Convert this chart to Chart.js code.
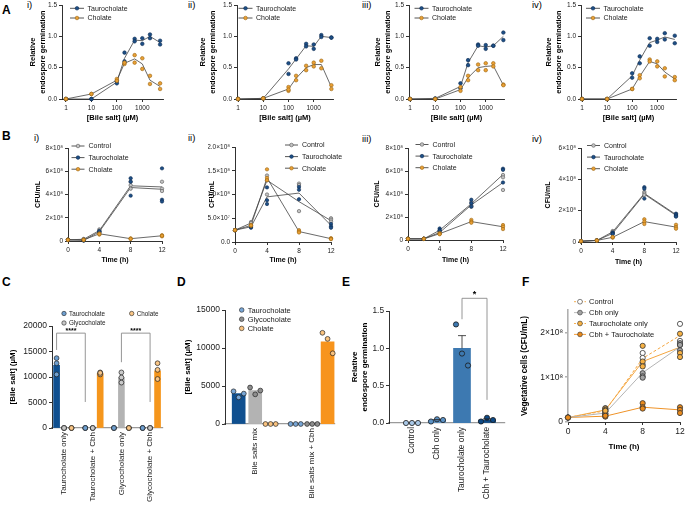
<!DOCTYPE html>
<html>
<head>
<meta charset="utf-8">
<script src="https://cdn.jsdelivr.net/npm/chart.js@4.4.1/dist/chart.umd.min.js"></script>
<style>
  body { margin: 0; background: #fff; overflow: hidden; }
  #fig { position: relative; width: 685px; height: 509px; font-family: 'Liberation Sans', Arial, sans-serif; color: #000; }
  .big { position: absolute; font-weight: bold; font-size: 12px; line-height: 12px; }
  .rom { position: absolute; font-size: 9.5px; line-height: 10px; }
</style>
</head>
<body>
<div id="fig">
  <div class="big" style="left:2px;top:4px">A</div>
  <div class="rom" style="left:27px;top:0px">i)</div>
  <div class="rom" style="left:188px;top:0px">ii)</div>
  <div class="rom" style="left:362px;top:0px">iii)</div>
  <div class="rom" style="left:532px;top:0px">iv)</div>
  <div class="big" style="left:2px;top:130px">B</div>
  <div class="rom" style="left:34px;top:133px">i)</div>
  <div class="rom" style="left:188px;top:133px">ii)</div>
  <div class="rom" style="left:362px;top:134px">iii)</div>
  <div class="rom" style="left:532px;top:134px">iv)</div>
  <div class="big" style="left:2px;top:276px">C</div>
  <div class="big" style="left:177px;top:276px">D</div>
  <div class="big" style="left:342px;top:276px">E</div>
  <div class="big" style="left:522px;top:276px">F</div>
</div>
<script>
// ---------- data ----------
const conc = [1, 10, 100, 200, 500, 1000, 2000, 5000];

const a1Tauro = [0, 0, 0.27, 0.65, 0.94, 0.93, 1.0, 0.9];
const a1TauroReps = [[0, 0], [0, 0], [0.25, 0.29], [0.74, 0.6], [0.96, 0.92], [0.97, 0.88], [1.03, 0.97], [0.93, 0.87]];
const a1Chol = [0, 0.08, 0.3, 0.57, 0.64, 0.56, 0.3, 0.2];
const a1CholReps = [[0, 0], [0.08, 0.08], [0.32, 0.29], [0.56, 0.58], [0.7, 0.58], [0.65, 0.48], [0.37, 0.24], [0.25, 0.16]];

const a2Tauro = [0, 0.01, 0.48, 0.64, 0.85, 0.84, 1.0, 0.98];
const a2TauroReps = [[0, 0], [0.01, 0.01], [0.57, 0.4], [0.65, 0.63], [0.88, 0.84], [0.87, 0.8], [1.02, 0.99], [0.98, 0.98]];
const a2Chol = [0, 0.01, 0.16, 0.33, 0.5, 0.55, 0.55, 0.19];
const a2CholReps = [[0, 0], [0.01, 0.01], [0.19, 0.13, 0.15], [0.37, 0.3], [0.53, 0.46], [0.58, 0.52], [0.61, 0.49], [0.22, 0.16]];

const a3Tauro = [0, 0.01, 0.2, 0.58, 0.85, 0.83, 0.85, 1.0];
const a3TauroReps = [[0, 0], [0.01, 0], [0.25, 0.17], [0.62, 0.54], [0.87, 0.85], [0.86, 0.8], [0.85, 0.85], [1.06, 0.94]];
const a3Chol = [0, 0, 0.15, 0.34, 0.5, 0.52, 0.53, 0.22];
const a3CholReps = [[0, 0], [0, 0], [0.19, 0.13], [0.37, 0.3], [0.55, 0.46], [0.57, 0.46], [0.57, 0.52], [0.23, 0.22]];

const a4Tauro = [0, 0, 0.37, 0.62, 0.9, 0.94, 0.99, 0.95];
const a4TauroReps = [[0, 0], [0, 0], [0.41, 0.34], [0.68, 0.57], [0.97, 0.85], [0.96, 0.91], [1.05, 0.95], [1.01, 0.89]];
const a4Chol = [0, 0, 0.16, 0.36, 0.6, 0.56, 0.43, 0.32];
const a4CholReps = [[0, 0], [0, 0], [0.16, 0.16], [0.38, 0.33], [0.63, 0.6], [0.6, 0.52], [0.49, 0.36], [0.35, 0.3]];

// CFU/mL in units of 1e8
const hours = [0, 2, 4, 8, 12];

const b1Control = [0.1, 0.15, 0.9, 4.75, 4.65];
const b1ControlReps = [[0.1, 0.12, 0.08], [0.15, 0.18, 0.12], [1.0, 0.9, 0.8], [5.1, 4.8, 4.5], [5.1, 4.5, 4.3]];
const b1Tauro = [0.1, 0.05, 0.8, 4.6, 4.45];
const b1TauroReps = [[0.1, 0.1, 0.1], [0.05, 0.06, 0.04], [0.8, 0.75, 0.85], [5.4, 5.1, 3.9], [6.25, 3.55, 3.4]];
const b1Chol = [0.1, 0.1, 0.62, 0.2, 0.45];
const b1CholReps = [[0.1, 0.1, 0.1], [0.1, 0.1, 0.1], [0.65, 0.55, 0.6], [0.2, 0.22, 0.18], [0.5, 0.4, 0.45]];

const b2Control = [0.25, 0.4, 1.3, 0.85, 0.45];
const b2ControlReps = [[0.25, 0.25, 0.25], [0.42, 0.38, 0.4], [1.4, 1.3, 1.0], [1.23, 1.2, 0.65], [0.5, 0.47, 0.43]];
const b2Tauro = [0.25, 0.32, 0.95, 1.03, 0.35];
const b2TauroReps = [[0.25, 0.25, 0.25], [0.3, 0.32, 0.34], [1.15, 0.88, 0.8], [1.16, 1.1, 0.9], [0.38, 0.33, 0.3]];
const b2Chol = [0.25, 0.35, 1.35, 0.22, 0.07];
const b2CholReps = [[0.25, 0.25, 0.25], [0.36, 0.34, 0.35], [1.53, 1.35, 1.3], [0.25, 0.22, 0.2], [0.08, 0.07, 0.06]];

const b3Control = [0.1, 0.1, 0.65, 3.05, 5.0];
const b3ControlReps = [[0.1, 0.1, 0.1], [0.1, 0.1, 0.1], [0.75, 0.6, 0.55], [3.3, 3.0, 2.9], [5.65, 5.45, 4.35]];
const b3Tauro = [0.1, 0.1, 0.85, 3.15, 5.7];
const b3TauroReps = [[0.1, 0.1, 0.1], [0.1, 0.1, 0.1], [1.0, 0.85, 0.8], [3.5, 3.2, 2.9], [6.2, 6.1, 5.0]];
const b3Chol = [0.1, 0.1, 0.55, 1.6, 1.15];
const b3CholReps = [[0.1, 0.1, 0.1], [0.1, 0.1, 0.1], [0.6, 0.55, 0.5], [1.75, 1.6, 1.5], [1.3, 1.15, 0.95]];

const b4Control = [0.05, 0.1, 0.65, 3.1, 1.75];
const b4ControlReps = [[0.05, 0.05, 0.05], [0.1, 0.1, 0.1], [0.7, 0.65, 0.6], [3.2, 3.1, 3.0], [1.8, 1.75, 1.65]];
const b4Tauro = [0.05, 0.1, 0.55, 3.05, 1.7];
const b4TauroReps = [[0.05, 0.05, 0.05], [0.1, 0.1, 0.1], [0.6, 0.55, 0.5], [3.5, 3.4, 2.77], [1.8, 1.7, 1.62]];
const b4Chol = [0.05, 0.1, 0.3, 1.3, 0.95];
const b4CholReps = [[0.05, 0.05, 0.05], [0.1, 0.1, 0.1], [0.3, 0.28, 0.32], [1.45, 1.3, 1.15], [1.1, 0.95, 0.85]];

const cGroups = ['Taurocholate only', 'Taurocholate + Cbh', 'Glycocholate only', 'Glycocholate + Cbh'];
const cTauro = [12300, 0, 0, 0];
const cTauroReps = [[13700, 12700, 10500], [0, 0, 0], [0, 0, 0], [0, 0, 0]];
const cGlyco = [0, 0, 9900, 0];
const cGlycoReps = [[0, 0, 0], [0, 0, 0], [10900, 9900, 8900], [0, 0, 0]];
const cChol = [0, 10700, 0, 11200];
const cCholReps = [[0, 0, 0], [10900, 10500, 10800], [0, 0, 0], [12700, 11400, 9600]];

const dGroups = ['Bile salts mix', 'Bile salts mix + Cbh'];
const dTauro = [4000, 0];
const dTauroReps = [[4300, 3500, 4000], [0, 0, 0]];
const dGlyco = [4400, 0];
const dGlycoReps = [[4800, 3900, 4400], [0, 0, 0]];
const dChol = [0, 10800];
const dCholReps = [[0, 0, 0], [12000, 11200, 9300]];

const eGroups = ['Control', 'Cbh only', 'Taurocholate only', 'Cbh + Taurocholate'];
const eMeans = [0, 0.035, 1.0, 0.04];
const eSem = [0, 0.01, 0.17, 0.015];
const eReps = [[0, 0, 0], [0.02, 0.05, 0.04], [1.32, 0.93, 0.77], [0.02, 0.07, 0.04]];

const fHours = [0, 4, 8, 12];
const fControl = [0.1, 0.25, 1.42, 1.93];
const fControlReps = [[0.1], [0.31, 0.24, 0.17], [1.54, 1.43, 1.28], [2.19, 1.81, 1.72]];
const fCbh = [0.1, 0.2, 1.1, 1.68];
const fCbhReps = [[0.1], [0.24, 0.18, 0.2], [1.09, 1.02, 0.99], [1.76, 1.72, 1.6]];
const fTauro = [0.1, 0.27, 1.35, 1.67];
const fTauroReps = [[0.1], [0.3, 0.27, 0.25], [1.7, 1.35, 1.24], [1.97, 1.54, 1.45]];
const fCbhTauro = [0.1, 0.13, 0.33, 0.27];
const fCbhTauroReps = [[0.1], [0.13, 0.12, 0.14], [0.42, 0.33, 0.3], [0.33, 0.27, 0.2]];

// ---------- styles ----------
const FONT = "'Liberation Sans', Arial, sans-serif";
const PADR = 14;
const INK = '#1a1a1a';
const BLUE = { fill: '#1d4f86', edge: '#0d2c52' };
const ORANGE = { fill: '#e9a035', edge: '#9a6410' };
const GREY = { fill: '#c4c4c4', edge: '#555' };
const LINE = '#444';

Chart.defaults.font.family = FONT;
Chart.defaults.color = INK;

// ---------- helpers ----------
const pts = (xs, ys) => xs.map((x, i) => ({ x: x, y: ys[i] }));
const repPts = (xs, reps, jit) => xs.flatMap((x, i) =>
  reps[i].map((y, k) => ({ x: x + (k - (reps[i].length - 1) / 2) * (jit || 0), y: y })));

function meanLine(xs, ys, color, width, dash) {
  return { type: 'scatter', data: pts(xs, ys), showLine: true, borderColor: color, borderWidth: width || 0.8,
    borderDash: dash || [], pointRadius: 0, clip: false, order: 3 };
}
function dots(data, st, r, bw) {
  return { type: 'scatter', data: data, showLine: false, pointRadius: r, backgroundColor: st.fill,
    borderColor: st.edge, borderWidth: bw || 0.6, clip: false, order: 1 };
}
function bars(data, color, thick) {
  return { type: 'bar', data: data.filter(p => p.y > 0), backgroundColor: color, borderWidth: 0,
    barThickness: thick, grouped: false, clip: false, order: 2 };
}

function axis(o) {
  const col = o.color || INK, bw = o.bw || 0.9;
  const a = {
    type: o.type || 'linear', min: o.min, max: o.max, offset: false,
    border: { display: true, color: col, width: bw },
    grid: { display: o.marks !== false, drawOnChartArea: false, drawTicks: true, tickLength: 3, color: col, lineWidth: bw },
    ticks: { stepSize: o.step, includeBounds: false, autoSkip: false, maxRotation: o.rot || 0, minRotation: o.rot || 0,
      padding: o.pad != null ? o.pad : 2, font: { family: FONT, size: o.tick }, color: INK, callback: o.fmt },
    title: { display: !!o.title, text: o.title, color: '#000', padding: 0,
      font: { family: FONT, size: o.ts, weight: 'bold', lineHeight: o.lh || 1.2 } }
  };
  if (o.values) a.afterBuildTicks = s => { s.ticks = o.values.map(v => ({ value: v })); };
  return a;
}

function mkChart(box, datasets, xs, ys, draw) {
  const pt = box.pt || 8;
  const W = box.yW + (box.r - box.l) + PADR, H = pt + (box.b - box.t) + box.xH;
  const cv = document.createElement('canvas');
  cv.width = W; cv.height = H;
  cv.style.cssText = 'position:absolute;left:' + (box.l - box.yW) + 'px;top:' + (box.t - pt) +
    'px;width:' + W + 'px;height:' + H + 'px';
  document.getElementById('fig').appendChild(cv);
  xs.afterFit = s => { s.height = box.xH; };
  ys.afterFit = s => { s.width = box.yW; };
  return new Chart(cv, {
    type: 'scatter',
    data: { datasets: datasets },
    options: {
      responsive: false, devicePixelRatio: 1, animation: false,
      layout: { padding: { left: 0, top: pt, right: PADR, bottom: 0 } },
      scales: { x: xs, y: ys },
      plugins: { legend: { display: false }, tooltip: { enabled: false } }
    },
    plugins: draw ? [{ id: 'extras', afterDraw: draw }] : []
  });
}

// legend drawn at page coordinates
function legend(chart, items, x0, y0, gap, o) {
  const ctx = chart.ctx;
  const ox = parseFloat(chart.canvas.style.left), oy = parseFloat(chart.canvas.style.top);
  ctx.save();
  items.forEach((it, i) => {
    const x = (it.x != null ? it.x : x0) - ox;
    const y = (it.y != null ? it.y : y0 + i * gap) - oy;
    if (it.line) {
      ctx.strokeStyle = it.line; ctx.lineWidth = 0.9; ctx.setLineDash(it.dash || []);
      ctx.beginPath(); ctx.moveTo(x - o.half, y); ctx.lineTo(x + o.half, y); ctx.stroke();
      ctx.setLineDash([]);
    }
    ctx.beginPath(); ctx.arc(x, y, o.r, 0, Math.PI * 2);
    ctx.fillStyle = it.fill; ctx.fill();
    ctx.strokeStyle = it.edge; ctx.lineWidth = 0.6; ctx.stroke();
    ctx.fillStyle = INK; ctx.font = o.size + 'px ' + FONT; ctx.textBaseline = 'middle'; ctx.textAlign = 'left';
    ctx.fillText(it.label, x + o.half + o.gap, y + 0.5);
  });
  ctx.restore();
}

function bracket(chart, xa, ya, xb, yb, ytop, label, size) {
  const ctx = chart.ctx, sx = chart.scales.x, sy = chart.scales.y;
  const X1 = sx.getPixelForValue(xa), X2 = sx.getPixelForValue(xb);
  const T = sy.getPixelForValue(ytop);
  ctx.save();
  ctx.strokeStyle = '#8a8a8a'; ctx.lineWidth = 0.9;
  ctx.beginPath();
  ctx.moveTo(X1, sy.getPixelForValue(ya)); ctx.lineTo(X1, T); ctx.lineTo(X2, T); ctx.lineTo(X2, sy.getPixelForValue(yb));
  ctx.stroke();
  ctx.fillStyle = '#000'; ctx.font = 'bold ' + size + 'px ' + FONT; ctx.textAlign = 'center'; ctx.textBaseline = 'bottom';
  ctx.fillText(label, (X1 + X2) / 2, T + 1);
  ctx.restore();
}

// ---------- A: germination vs bile salt ----------
function panelA(box, tauro, tauroReps, chol, cholReps, leg) {
  const ds = [
    meanLine(conc, tauro, LINE), meanLine(conc, chol, LINE),
    dots(repPts(conc, cholReps), ORANGE, 1.8), dots(repPts(conc, tauroReps), BLUE, 1.8)
  ];
  const xs = axis({ type: 'logarithmic', min: box.xmin, max: box.xmax, values: [1, 10, 100, 1000],
    fmt: v => String(v), tick: 6.5, title: '[Bile salt] (µM)', ts: 7.5, lh: 1.33 });
  const ys = axis({ min: 0, max: 1.5, step: 0.5, fmt: v => v.toFixed(1), tick: 6.5,
    title: ['Relative', 'endospore germination'], ts: 7.5, lh: 1.33 });
  mkChart(box, ds, xs, ys, c => legend(c, [
    { label: 'Taurocholate', line: LINE, fill: BLUE.fill, edge: BLUE.edge },
    { label: 'Cholate', line: LINE, fill: ORANGE.fill, edge: ORANGE.edge }
  ], leg[0], leg[1], 9.7, { half: 7, r: 1.8, gap: 3.5, size: 7 }));
}

panelA({ l: 62, t: 5, r: 163, b: 99, yW: 34, xH: 24, xmin: 0.7, xmax: 6500 }, a1Tauro, a1TauroReps, a1Chol, a1CholReps, [77, 8.3]);
panelA({ l: 237, t: 5, r: 333, b: 99, yW: 39, xH: 24, xmin: 0.91, xmax: 5800 }, a2Tauro, a2TauroReps, a2Chol, a2CholReps, [245.5, 8.3]);
panelA({ l: 409, t: 5, r: 504, b: 99, yW: 36, xH: 24, xmin: 0.91, xmax: 5300 }, a3Tauro, a3TauroReps, a3Chol, a3CholReps, [421.5, 8.3]);
panelA({ l: 581, t: 5, r: 676, b: 99, yW: 37, xH: 24, xmin: 0.91, xmax: 5600 }, a4Tauro, a4TauroReps, a4Chol, a4CholReps, [593, 8.3]);

// ---------- B: growth curves ----------
const fmt8 = v => v === 0 ? '0' : v + '×10⁸';
const fmt2 = v => v === 0 ? '0.0' : (v < 1 ? (v * 10).toFixed(1) + '×10⁷' : v.toFixed(1) + '×10⁸');

function panelB(box, ymax, ystep, fmt, ser, leg) {
  const ds = [
    meanLine(hours, ser[0], LINE), meanLine(hours, ser[2], LINE), meanLine(hours, ser[4], LINE),
    dots(repPts(hours, ser[5]), ORANGE, 1.7), dots(repPts(hours, ser[3]), BLUE, 1.7), dots(repPts(hours, ser[1]), GREY, 1.7)
  ];
  const xs = axis({ min: 0, max: 12, step: 4, fmt: v => String(v), tick: 6.5, title: 'Time (h)', ts: 7 });
  const ys = axis({ min: 0, max: ymax, step: ystep, fmt: fmt, tick: 6.5, title: 'CFU/mL', ts: 7 });
  mkChart(box, ds, xs, ys, c => legend(c, [
    { label: 'Control', line: LINE, fill: GREY.fill, edge: GREY.edge },
    { label: 'Taurocholate', line: LINE, fill: BLUE.fill, edge: BLUE.edge },
    { label: 'Cholate', line: LINE, fill: ORANGE.fill, edge: ORANGE.edge }
  ], leg[0], leg[1], 11.6, { half: 6.5, r: 1.8, gap: 4, size: 7 }));
}

panelB({ l: 68, t: 148, r: 162, b: 241, yW: 34, xH: 23 }, 8, 2, fmt8,
  [b1Control, b1ControlReps, b1Tauro, b1TauroReps, b1Chol, b1CholReps], [78, 146]);
panelB({ l: 235, t: 147, r: 331, b: 242, yW: 27, xH: 22 }, 2, 0.5, fmt2,
  [b2Control, b2ControlReps, b2Tauro, b2TauroReps, b2Chol, b2CholReps], [291.5, 145]);
panelB({ l: 408, t: 148, r: 503, b: 240, yW: 35, xH: 24 }, 8, 2, fmt8,
  [b3Control, b3ControlReps, b3Tauro, b3TauroReps, b3Chol, b3CholReps], [422, 144.5]);
panelB({ l: 581, t: 148, r: 676, b: 242, yW: 37, xH: 24 }, 6, 2, fmt8,
  [b4Control, b4ControlReps, b4Tauro, b4TauroReps, b4Chol, b4CholReps], [593.5, 145.5]);

// ---------- C: bile salt conversion ----------
(function () {
  const idx = cGroups.map((g, i) => i);
  const off = [-0.26, 0, 0.26];
  const shift = k => idx.map(i => i + off[k]);
  const ds = [
    bars(pts(shift(0), cTauro), '#0f4f8f', 6),
    bars(pts(shift(1), cGlyco), '#b3b3b3', 6),
    bars(pts(shift(2), cChol), '#f5961c', 6),
    dots(repPts(shift(0), cTauroReps), { fill: '#6e9fd0', edge: '#222' }, 2.4, 0.7),
    dots(repPts(shift(1), cGlycoReps), { fill: '#c9c9c9', edge: '#222' }, 2.4, 0.7),
    dots(repPts(shift(2), cCholReps), { fill: '#f9c585', edge: '#222' }, 2.4, 0.7)
  ];
  const xs = axis({ min: -0.42, max: 3.45, values: idx, fmt: v => cGroups[v], tick: 8, rot: 90, marks: false,
    pad: 1, color: '#9a9a9a', bw: 1.2 });
  const ys = axis({ min: 0, max: 20000, step: 5000, fmt: v => String(v), tick: 8.5, title: '[Bile salt] (µM)', ts: 8 });
  mkChart({ l: 52, t: 326, r: 163, b: 428, yW: 44, xH: 80, pt: 20 }, ds, xs, ys, c => {
    bracket(c, 0 + off[0], 15300, 1 + off[0], 5100, 18600, '****', 7);
    bracket(c, 2, 12900, 3, 5100, 18600, '****', 7);
    legend(c, [
      { label: 'Taurocholate', fill: '#6e9fd0', edge: '#222' },
      { label: 'Glycocholate', fill: '#c9c9c9', edge: '#222' },
      { label: 'Cholate', fill: '#f9c585', edge: '#222', x: 131.7, y: 313.5 }
    ], 64, 313.5, 9.5, { half: 0, r: 2.2, gap: 5, size: 6.3 });
  });
})();

// ---------- D: bile salt mix ----------
(function () {
  const idx = dGroups.map((g, i) => i);
  const off = [-0.29, 0, 0.27];
  const shift = k => idx.map(i => i + off[k]);
  const ds = [
    bars(pts(shift(0), dTauro), '#0f4f8f', 13),
    bars(pts(shift(1), dGlyco), '#b3b3b3', 13),
    bars(pts(shift(2), dChol), '#f7941d', 13),
    dots(repPts(shift(0), dTauroReps, 0.09), { fill: '#78a6d6', edge: '#222' }, 2.4, 0.7),
    dots(repPts(shift(1), dGlycoReps, 0.09), { fill: '#8e8e8e', edge: '#222' }, 2.4, 0.7),
    dots(repPts(shift(2), dCholReps, 0.09), { fill: '#f9c27e', edge: '#222' }, 2.4, 0.7)
  ];
  const xs = axis({ min: -0.53, max: 1.4, values: idx, fmt: v => dGroups[v], tick: 8, rot: 90, marks: false,
    pad: 1, color: '#9a9a9a', bw: 1.2 });
  const ys = axis({ min: 0, max: 15000, step: 5000, fmt: v => String(v), tick: 8.5, title: '[Bile salt] (µM)', ts: 8 });
  mkChart({ l: 225, t: 310, r: 335, b: 424, yW: 42, xH: 80, pt: 12 }, ds, xs, ys, c => {
    legend(c, [
      { label: 'Taurocholate', fill: '#78a6d6', edge: '#222' },
      { label: 'Glycocholate', fill: '#8e8e8e', edge: '#222' },
      { label: 'Cholate', fill: '#f9c27e', edge: '#222' }
    ], 241.7, 310, 9.2, { half: 0, r: 2.3, gap: 6, size: 7.5 });
  });
})();

// ---------- E: germination with Cbh ----------
(function () {
  const idx = eGroups.map((g, i) => i);
  const cols = ['#a9c8e6', '#5b92c6', '#3d79b1', '#0e4a86'];
  const ds = [
    { type: 'bar', data: pts(idx, eMeans), backgroundColor: cols, borderWidth: 0, barThickness: 17, grouped: false, clip: false, order: 2 }
  ];
  idx.forEach(i => ds.push(dots(repPts([i], [eReps[i]], 0.24), { fill: cols[i], edge: '#1a1a1a' }, 2.6, 0.8)));
  const xs = axis({ min: -0.92, max: 3.72, values: idx, fmt: v => eGroups[v], tick: 8.3, rot: 90, marks: false,
    pad: 1, color: '#9a9a9a', bw: 1.2 });
  const ys = axis({ min: 0, max: 1.5, step: 0.5, fmt: v => v.toFixed(1), tick: 8.3,
    title: ['Relative', 'endospore germination'], ts: 8, lh: 1.25 });
  mkChart({ l: 389, t: 311, r: 505, b: 423, yW: 39, xH: 80, pt: 30 }, ds, xs, ys, c => {
    const sx = c.scales.x, sy = c.scales.y, ctx = c.ctx;
    ctx.save(); ctx.strokeStyle = '#222'; ctx.lineWidth = 0.8;
    idx.forEach(i => {
      if (!eSem[i]) return;
      const X = sx.getPixelForValue(i), T = sy.getPixelForValue(eMeans[i] + eSem[i]);
      ctx.beginPath(); ctx.moveTo(X, sy.getPixelForValue(eMeans[i])); ctx.lineTo(X, T);
      ctx.moveTo(X - 4, T); ctx.lineTo(X + 4, T); ctx.stroke();
    });
    ctx.restore();
    bracket(c, 2, 1.39, 3, 0.31, 1.67, '*', 9);
  });
})();

// ---------- F: vegetative cells ----------
(function () {
  const OR = '#f4a640';
  const ds = [
    meanLine(fHours, fCbh, '#b4b4b4', 1),
    meanLine(fHours, fCbhTauro, '#ef9328', 1),
    meanLine(fHours, fTauro, OR, 1),
    meanLine(fHours, fControl, OR, 1, [3, 2]),
    dots(repPts(fHours, fCbhTauroReps), { fill: '#e98a1c', edge: '#333' }, 2.6, 0.8),
    dots(repPts(fHours, fTauroReps), { fill: '#f6b144', edge: '#333' }, 2.6, 0.8),
    dots(repPts(fHours, fCbhReps), { fill: '#a3a3a3', edge: '#333' }, 2.6, 0.8),
    dots(repPts(fHours, fControlReps), { fill: '#ffffff', edge: '#333' }, 2.6, 0.8)
  ];
  const xs = axis({ min: 0, max: 12, step: 4, fmt: v => String(v), tick: 8.5, title: 'Time (h)', ts: 8 });
  const ys = axis({ min: 0, max: 2.5, step: 1, fmt: fmt8, tick: 8.5, title: 'Vegetative cells (CFU/mL)', ts: 8.2,
    color: '#b0b0b0', bw: 1.6 });
  mkChart({ l: 568, t: 310, r: 680, b: 422, yW: 48, xH: 30, pt: 16 }, ds, xs, ys, c => legend(c, [
    { label: 'Control', line: OR, dash: [2, 1.5], fill: '#ffffff', edge: '#333' },
    { label: 'Cbh only', line: '#b4b4b4', fill: '#a3a3a3', edge: '#333' },
    { label: 'Taurocholate only', line: OR, dash: [2, 1.5], fill: '#f6b144', edge: '#333' },
    { label: 'Cbh + Taurocholate', line: '#ef9328', fill: '#e98a1c', edge: '#333' }
  ], 580, 301.7, 10.9, { half: 6, r: 2.4, gap: 3, size: 7.5 }));
})();
</script>
</body>
</html>
